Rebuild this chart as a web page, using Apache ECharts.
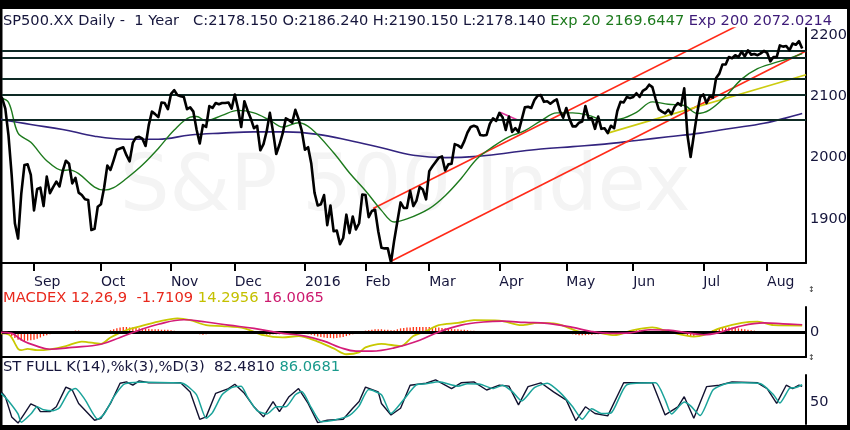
<!DOCTYPE html>
<html><head><meta charset="utf-8">
<script src="https://cdn.jsdelivr.net/npm/echarts@6/dist/echarts.min.js"></script>
<style>html,body{margin:0;padding:0;background:#fff}#c{width:850px;height:430px}</style>
</head><body><div id="c"></div>
<script>
// trading-day index of each month start, and its label
const monthIdx = [11, 32, 54, 74, 96, 115, 135, 157, 178, 199, 221, 241];
const monthLabels = ['Sep','Oct','Nov','Dec','2016','Feb','Mar','Apr','May','Jun','Jul','Aug'];
const priceTicks = [1900, 2000, 2100, 2200];

// daily closes, 17 Aug 2015 .. 16 Aug 2016
const closes = [
2102,2097,2080,2036,1971,1893,1868,1941,1988,1989,1972,
1914,1949,1951,1921,1969,1942,1952,1961,1953,1978,1995,1990,1958,1967,1943,1939,1932,1931,1882,1884,1920,
1924,1951,1987,1980,1996,2013,2015,2017,2004,1994,2024,2033,2034,2031,2019,2053,2075,2071,2066,2090,2089,2079,
2104,2110,2102,2100,2099,2079,2082,2075,2046,2023,2053,2050,2084,2081,2089,2087,2089,2089,2090,2080,
2103,2080,2050,2092,2077,2064,2048,2052,2012,2022,2043,2073,2042,2006,2021,2039,2064,2061,2057,2078,2063,2044,
2013,2017,1990,1943,1922,1924,1939,1890,1922,1880,1881,1859,1869,1907,1877,1904,1883,1893,1940,
1939,1903,1913,1915,1880,1853,1852,1852,1829,1865,1896,1927,1918,1918,1946,1921,1930,1952,1948,1932,
1978,1986,1993,2000,2002,1979,1989,1990,2022,2020,2016,2027,2041,2050,2052,2050,2037,2036,2037,2055,2064,2060,
2073,2066,2045,2067,2042,2048,2042,2062,2082,2083,2081,2094,2101,2102,2091,2092,2088,2092,2095,2076,2065,
2081,2063,2051,2051,2057,2059,2084,2064,2064,2047,2067,2047,2048,2040,2052,2048,2076,2091,2090,2099,2097,
2099,2105,2099,2109,2112,2119,2115,2096,2079,2075,2072,2078,2071,2083,2089,2085,2113,2037,2001,2036,2071,2099,
2103,2089,2100,2098,2130,2137,2152,2152,2164,2162,2167,2164,2173,2165,2175,2168,2169,2167,2170,2174,
2171,2157,2164,2164,2183,2181,2182,2175,2186,2184,2190,2178
];

// [day index, value] readings
const ema20 = [[0,2098],[3,2090],[6,2040],[10,2025],[15,1995],[20,1979],[22,1980],[25,1974],[30,1952],[33,1947],[36,1951],[40,1966],[45,1988],[50,2015],[55,2045],[60,2066],[62,2067],[65,2060],[70,2069],[75,2077],[80,2073],[85,2061],[89,2050],[94,2057],[98,2047],[105,2008],[110,1975],[115,1946],[120,1914],[124,1895],[128,1900],[135,1917],[140,1938],[145,1966],[150,1998],[155,2018],[160,2034],[165,2044],[170,2060],[175,2073],[180,2073],[185,2069],[190,2061],[195,2063],[200,2074],[205,2091],[210,2087],[215,2085],[219,2072],[223,2078],[228,2100],[233,2128],[238,2145],[243,2154],[248,2162],[252,2169.6]];
const ema200 = [[0,2063],[10,2054],[20,2046],[30,2035],[40,2030],[50,2030],[60,2037],[70,2040],[80,2042],[90,2042],[100,2038],[110,2028],[120,2016],[130,2004],[140,2000],[150,2002],[160,2008],[170,2014],[180,2018],[190,2022],[200,2028],[210,2034],[220,2040],[230,2048],[240,2056],[250,2069],[252,2072]];

const hLevels = [2174, 2163, 2128, 2102, 2061];
const redUpper = [[117.4,1917],[232,2216]];
const redLower = [[123,1831],[253.2,2174]];
const yellowTrend = [[191,2040],[253.2,2135]];
const pinkTrend = [[157.2,2074],[162.9,2061]];

const macd = [[0,-3],[3,-5],[4,-12],[5,-25],[6,-37],[7,-40],[9,-37],[12,-40],[16,-38],[21,-31],[26,-21],[32,-26],[35,-12],[40,4],[44,12],[50,23],[56,30],[60,26],[65,15],[70,13],[77,8],[83,-7],[89,-12],[94,-9],[100,-21],[105,-36],[109,-49],[113,-45],[115,-34],[120,-26],[126,-31],[130,-9],[134,2],[138,15],[144,20],[149,26],[157,25],[164,15],[169,20],[175,18],[182,1],[188,-2],[193,-7],[199,4],[205,10],[210,1],[218,-10],[221,-7],[226,8],[233,20],[238,23],[243,15],[252,14.3]];
const signal = [[0,-1],[4,-3],[6,-12],[8,-21],[11,-29],[16,-38],[23,-34],[32,-27],[38,-12],[44,4],[50,17],[58,27],[65,22],[72,15],[80,8],[88,-2],[96,-9],[102,-20],[107,-34],[112,-42],[117,-42],[124,-35],[132,-18],[138,0],[145,15],[152,22],[158,24],[165,21],[172,19],[180,10],[186,1],[192,-3],[198,-2],[204,5],[210,4],[216,-2],[221,-6],[226,-1],[232,12],[240,20],[246,18],[252,16]];
const hist = [
-1,-2,-3, -5,-9,-13, -17,-19,-20, -19,-18,-17, -15,-12,-9, -7,-5,-3,-2,-1,0,
1,2,2,3,3,2,1,1, 0,-2,-3,-2,-1, 2,4,6,8,10,11,11, 10,10,9,8,8,7,
7,6,6,6,5,5,5,4,3, 2,1,0,-1,-2, -3,-4,-5,-6,-5,-4,-3,-3,-3,-2,
-2,-2,-2,-3,-3,-2,-2,-3,-3,-4, -4,-5,-5,-6,-6,-5,-5,-5,-4,-4, -4,-3,-3,-3,-3,
-4,-5,-6,-8,-10,-11,-12,-13,-13, -14,-13,-12,-11,-9,-7,-5, -3,-1,1,3,4,5,6,
6,6,5,5,4,4,6,8, 9,10,10,11,11,11,11,11, 11,10,10,10,9,8,7,7,
6,6,5,5,4,3,3,2,2,2, 1,1,0,0,1,1,0,-1, -1,-1,0,1,1,1,2,2,1,1,
0,0,-1,-1,-1,-2,-2,-3, -4,-5,-6,-7,-7,-7,-6,-6,-5,-5,-4,-4, -3,-3,-2,-1,0,1,2,
3,3,4,4,4,3,3,2,2,1,0, -1,-2,-2,-3,-3,-3,-4, -7,-9,-9,-7,-5,-3,
-1,2,4,6,8,9,10, 10,10,9,8,7,6,5,4, 3,2,1,0,-1,-2,-3,-3, -3,-3,-2,-2,-2,-2,-2,-1.7
];

const stochK = [[0,72],[1,69],[2,61],[4,19],[6,6],[8,26],[10,46],[12,40],[13,30],[16,30],[18,40],[21,81],[23,75],[25,47],[30,12],[32,16],[35,47],[38,89],[40,92],[42,85],[44,94],[47,90],[53,90],[57,90],[60,71],[63,14],[65,19],[68,68],[72,78],[74,87],[77,68],[80,40],[83,19],[86,51],[88,30],[91,61],[94,78],[97,47],[100,7],[103,12],[108,14],[111,37],[113,51],[115,81],[119,71],[120,47],[123,23],[126,37],[129,85],[134,89],[137,96],[142,78],[145,90],[149,92],[153,75],[157,85],[160,83],[163,44],[166,82],[170,90],[174,71],[178,54],[181,11],[184,40],[187,26],[191,21],[196,90],[205,90],[209,23],[213,40],[215,61],[218,16],[222,82],[226,85],[230,92],[238,90],[241,78],[244,47],[247,85],[249,78],[251,85],[252,82.5]];
const stochD = [[0,68],[1,66],[3,52],[6,25],[7,8],[10,25],[12,40],[14,34],[17,32],[19,38],[22,72],[24,78],[27,55],[31,14],[33,25],[36,60],[39,86],[41,90],[44,91],[47,91],[54,90],[58,88],[62,65],[65,16],[67,28],[70,65],[73,80],[76,83],[78,60],[81,32],[84,25],[87,40],[90,40],[93,65],[95,72],[98,38],[101,9],[105,12],[110,22],[113,42],[116,76],[120,65],[123,26],[127,55],[131,86],[134,88],[138,92],[144,83],[147,88],[151,87],[155,78],[158,85],[161,72],[164,52],[168,80],[172,89],[176,70],[180,40],[183,14],[186,36],[189,26],[192,27],[197,86],[206,90],[209,55],[211,25],[215,50],[217,42],[220,22],[224,75],[228,88],[233,90],[239,88],[243,65],[245,48],[248,78],[250,80],[252,86]];

const F = 'DejaVu Sans';
const NAVY = '#16163c';
const X0 = 0.96, X1 = 253.2;

function xAx(gi, opts) {
  return Object.assign({
    type: 'value', gridIndex: gi, min: X0, max: X1,
    splitLine: {show: false},
    axisLine: {show: false, onZero: false},
    axisTick: {show: false},
    axisLabel: {show: false}
  }, opts || {});
}
function yAx(gi, min, max, labels) {
  return {
    type: 'value', gridIndex: gi, position: 'right', min: min, max: max,
    splitLine: {show: false},
    axisLine: {show: true, onZero: false, lineStyle: {color: '#000', width: 2}},
    axisTick: {show: false},
    axisLabel: {customValues: labels, margin: 4, color: NAVY, fontSize: 14.5, fontFamily: F,
      formatter: v => String(v)}
  };
}
const lineS = (data, color, width, xi, extra) => Object.assign({
  type: 'line', data: data, xAxisIndex: xi, yAxisIndex: xi, showSymbol: false, symbol: 'none',
  lineStyle: {color: color, width: width}, silent: true
}, extra || {});

const chart = echarts.init(document.getElementById('c'));
chart.setOption({
  animation: false,
  backgroundColor: '#fff',
  grid: [
    {left: 2, right: 44, top: 28, height: 235},
    {left: 2, right: 44, top: 307, height: 50},
    {left: 2, right: 44, top: 375, height: 49}
  ],
  xAxis: [
    xAx(0, {
      axisLine: {show: true, onZero: false, lineStyle: {color: '#000', width: 2}},
      axisTick: {show: true, customValues: monthIdx, length: 8, lineStyle: {color: '#000', width: 2}},
      axisLabel: {show: true, customValues: monthIdx, align: 'left', margin: 12,
        formatter: v => monthLabels[monthIdx.indexOf(v)], color: NAVY, fontSize: 14, fontFamily: F}
    }),
    xAx(1, {axisLine: {show: true, onZero: false, lineStyle: {color: '#000', width: 2}}}),
    xAx(2)
  ],
  yAxis: [
    yAx(0, 1828.2, 2211.4, priceTicks),
    yAx(1, -55, 55, [0]),
    yAx(2, 4.17, 106.25, [50])
  ],
  graphic: [
    {type: 'text', x: 120, y: 190, z: 0, silent: true,
      style: {text: 'S&P 500 Index', fill: '#f4f4f4', fontSize: 78, fontFamily: F, verticalAlign: 'middle'}},
    {type: 'rect', shape: {x: 0, y: 0, width: 850, height: 9}, style: {fill: '#000'}},
    {type: 'rect', shape: {x: 0, y: 0, width: 2.5, height: 430}, style: {fill: '#000'}},
    {type: 'rect', shape: {x: 847, y: 0, width: 3, height: 430}, style: {fill: '#000'}},
    {type: 'rect', shape: {x: 0, y: 425, width: 850, height: 5}, style: {fill: '#000'}},
    {type: 'text', x: 3, y: 21, style: {
      text: '{a|SP500.XX Daily -  1 Year   C:2178.150 O:2186.240 H:2190.150 L:2178.140 }{g|Exp 20 2169.6447 }{p|Exp 200 2072.0214}',
      verticalAlign: 'middle',
      rich: {
        a: {fill: NAVY, fontSize: 14.6, fontFamily: F},
        g: {fill: '#1d7a1d', fontSize: 14.6, fontFamily: F},
        p: {fill: '#3d1a78', fontSize: 14.6, fontFamily: F}
      }}},
    {type: 'text', x: 3, y: 298.5, style: {
      text: '{r|MACDEX 12,26,9  -1.7109 }{y|14.2956 }{m|16.0065}',
      verticalAlign: 'middle',
      rich: {
        r: {fill: '#e8281c', fontSize: 14.7, fontFamily: F},
        y: {fill: '#c4c000', fontSize: 14.7, fontFamily: F},
        m: {fill: '#cc1a6e', fontSize: 14.7, fontFamily: F}
      }}},
    {type: 'text', x: 3, y: 367.5, style: {
      text: '{n|ST FULL K(14),%k(3),%D(3)  82.4810 }{t|86.0681}',
      verticalAlign: 'middle',
      rich: {
        n: {fill: NAVY, fontSize: 14.7, fontFamily: F},
        t: {fill: '#1a9a8c', fontSize: 14.7, fontFamily: F}
      }}},
    {type: 'text', x: 808, y: 290, style: {text: '\u2195', fill: '#333', fontSize: 8, fontFamily: F, verticalAlign: 'middle'}},
    {type: 'text', x: 808, y: 358, style: {text: '\u2195', fill: '#333', fontSize: 8, fontFamily: F, verticalAlign: 'middle'}}
  ],
  series: [
    lineS(ema200, '#33247f', 1.6, 0, {smooth: 0.4, z: 3,
      markLine: {silent: true, symbol: 'none', label: {show: false},
        lineStyle: {color: '#0e2a25', width: 2, type: 'solid'},
        data: hLevels.map(v => ({yAxis: v}))}}),
    lineS(redUpper, '#ff2a18', 1.6, 0, {z: 3}),
    lineS(redLower, '#ff2a18', 1.6, 0, {z: 3}),
    lineS(yellowTrend, '#cccc10', 1.6, 0, {z: 3}),
    lineS(pinkTrend, '#e0359a', 1.6, 0, {z: 3}),
    lineS(ema20, '#1d7a1d', 1.4, 0, {smooth: 0.35, z: 4}),
    lineS(closes.map((v, i) => [i, v]), '#000', 2.6, 0, {z: 5, lineStyle: {color: '#000', width: 2.6, join: 'round'}}),
    {type: 'bar', xAxisIndex: 1, yAxisIndex: 1, data: hist.map((v, i) => [i, v]), barWidth: 1.3,
      itemStyle: {color: '#ff3010'}, silent: true,
      markLine: {silent: true, symbol: 'none', label: {show: false},
        lineStyle: {color: '#000', width: 3, type: 'solid'}, data: [{yAxis: 0}]}},
    lineS(macd, '#c8c800', 1.8, 1, {smooth: 0.3, z: 4}),
    lineS(signal, '#d41b78', 1.7, 1, {smooth: 0.4, z: 5}),
    lineS(stochK, '#121230', 1.4, 2, {z: 4}),
    lineS(stochD, '#1aa39a', 1.5, 2, {z: 5, smooth: 0.2})
  ]
});
</script></body></html>
